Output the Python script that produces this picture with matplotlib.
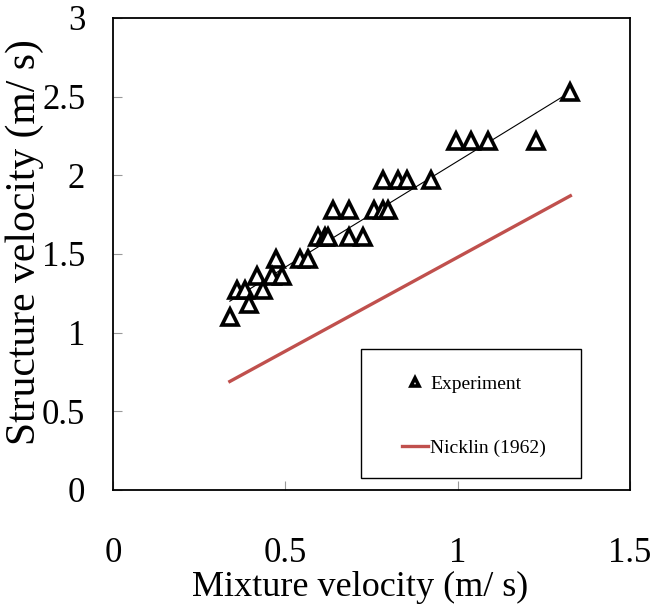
import matplotlib
matplotlib.use("Agg")
import matplotlib.pyplot as plt
from matplotlib.patches import Rectangle
import numpy as np

# Experimental data (mixture velocity, structure velocity)
exp_x = [1.327, 0.995, 1.039, 1.089, 1.226,
         0.782, 0.826, 0.852, 0.922,
         0.637, 0.686, 0.758, 0.782, 0.799,
         0.596, 0.615, 0.625, 0.686, 0.726,
         0.542, 0.567, 0.474,
         0.460, 0.489, 0.417,
         0.359, 0.383, 0.434,
         0.395, 0.339]
exp_y = [2.53, 2.22, 2.22, 2.22, 2.22,
         1.97, 1.97, 1.97, 1.97,
         1.78, 1.78, 1.78, 1.78, 1.78,
         1.61, 1.61, 1.61, 1.61, 1.61,
         1.47, 1.47, 1.47,
         1.36, 1.36, 1.36,
         1.27, 1.27, 1.27,
         1.18, 1.10]

# Trend line of experiment
trend_x = [0.339, 1.327]
trend_y = [1.20, 2.53]

# Nicklin (1962) correlation
nicklin_x = [0.339, 1.327]
nicklin_y = [0.69, 1.87]

xticks = [0, 0.5, 1, 1.5]
xtick_labels = ["0", "0.5", "1", "1.5"]
yticks = [0, 0.5, 1, 1.5, 2, 2.5, 3]
ytick_labels = ["0", "0.5", "1", "1.5", "2", "2.5", "3"]

plt.rcParams['font.family'] = ['Liberation Serif', 'DejaVu Serif']

fig = plt.figure(figsize=(6.68, 6.16), dpi=100)
ax = fig.add_axes([113/668, (616-490)/616, (630-113)/668, (490-18)/616])

ax.plot(trend_x, trend_y, color='black', lw=0.8, zorder=2)
ax.plot(nicklin_x, nicklin_y, color='#C0504D', lw=2.4, label='Nicklin (1962)', zorder=2)
ax.plot(exp_x, exp_y, linestyle='none', marker='^', markersize=11,
        markerfacecolor='white', markeredgecolor='black', markeredgewidth=2.6,
        label='Experiment', zorder=3)

ax.set_xlim(0, 1.5)
ax.set_ylim(0, 3)
ax.set_xticks(xticks)
ax.set_xticklabels(xtick_labels)
ax.set_yticks(yticks)
ax.set_yticklabels(ytick_labels)
ax.tick_params(axis='both', direction='in', length=6.5, width=0.8, color='#999999',
               labelsize=25)
ax.tick_params(axis='x', pad=34)
ax.tick_params(axis='y', pad=20)
for s in ax.spines.values():
    s.set_linewidth(1.3)
    s.set_color('black')

ax.set_xlabel('Mixture velocity (m/ s)', fontsize=26)
ax.xaxis.set_label_coords(0.478, -0.207)
ax.xaxis.label.set_va('center')
ax.set_ylabel('Structure velocity (m/ s)', fontsize=30)
ax.yaxis.set_label_coords(-0.17, 0.525)
ax.yaxis.label.set_va('center')

# legend frame
ax.add_patch(Rectangle((0.48, 0.025), 0.425, 0.274, transform=ax.transAxes,
                       fill=True, facecolor='white', edgecolor='black', lw=1.0, zorder=4))
handles, labels = ax.get_legend_handles_labels()
leg = ax.legend([handles[1], handles[0]], [labels[1], labels[0]],
                loc='center', bbox_to_anchor=(0.486 + 0.425/2, 0.02 + 0.274/2),
                frameon=False, fontsize=14, markerscale=0.55, handlelength=1.35,
                handletextpad=0.12, labelspacing=2.4)
leg.set_zorder(5)

fig.savefig('out.png', dpi=100)
